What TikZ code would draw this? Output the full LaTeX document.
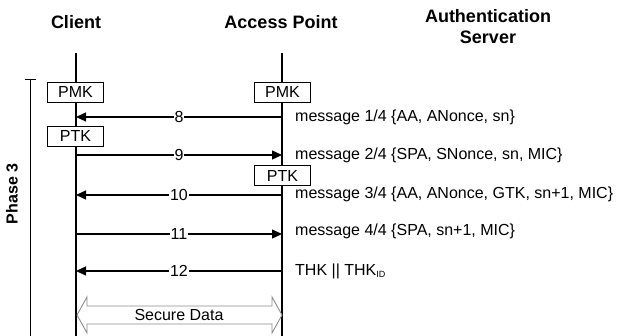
\documentclass[tikz,border=0pt]{standalone}
\usepackage{fontspec}
\setmainfont{Liberation Sans}
\usetikzlibrary{arrows.meta}
\begin{document}
\begin{tikzpicture}[x=1pt,y=-1pt,
  txt/.style={font=\fontsize{16}{19}\selectfont, inner sep=0pt},
  hdr/.style={font=\fontsize{18}{21}\selectfont\bfseries, inner sep=0pt, align=center},
  life/.style={line width=2pt},
  keybox/.style={draw, line width=0.9pt, minimum width=56pt, minimum height=20pt, inner sep=0pt, font=\fontsize{16}{19}\selectfont, fill=white},
  msg/.style={line width=1.3pt},
  tip/.style={-{Triangle[length=10pt,width=9pt]}},
  num/.style={font=\fontsize{16}{19}\selectfont, fill=white, inner sep=1pt},
  mtxt/.style={txt, anchor=west}]
\useasboundingbox (0,0) rectangle (621,336);
\clip (0,0) rectangle (621,336);
% headers
\node[hdr] (hc) at (76,22) {Client};
\node[hdr] (ha) at (281,22) {Access Point};
\node[hdr] (hs) at (488,27) {Authentication\\Server};
% lifelines
\coordinate (ct) at (76,53); \coordinate (cb) at (76,340);
\coordinate (at) at (282,53); \coordinate (ab) at (282,340);
\draw[life] (ct) -- (cb);
\draw[life] (at) -- (ab);
% phase bracket
\coordinate (pt) at (30,79); \coordinate (pb) at (30,340);
\draw[line width=0.9pt] (pt) -- (pb);
\coordinate (ptl) at (24.5,79); \coordinate (ptr) at (36,79);
\draw[line width=0.9pt] (ptl) -- (ptr);
\node[txt, font=\fontsize{16}{19}\selectfont\bfseries, rotate=90] (ph) at (12,194) {Phase 3};
% key boxes
\node[keybox] (cpmk) at (75.5,92) {PMK};
\node[keybox] (apmk) at (282.5,92) {PMK};
\node[keybox] (cptk) at (75.5,136) {PTK};
\node[keybox] (aptk) at (282.5,175.5) {PTK};
% message coordinates
\foreach \n/\y in {8/117,9/155,10/195,11/234,12/271}{
  \coordinate (c\n) at (76,\y);
  \coordinate (a\n) at (282,\y);
}
\draw[msg,tip] (a8) -- node[num] (n8) {8} (c8);
\draw[msg,tip] (c9) -- node[num] (n9) {9} (a9);
\draw[msg,tip] (a10) -- node[num] (n10) {10} (c10);
\draw[msg,tip] (c11) -- node[num] (n11) {11} (a11);
\draw[msg,tip] (a12) -- node[num] (n12) {12} (c12);
% message texts
\node[mtxt] (m1) at (295,117) {message 1/4 \{AA, ANonce, sn\}};
\node[mtxt] (m2) at (295,155) {message 2/4 \{SPA, SNonce, sn, MIC\}};
\node[mtxt] (m3) at (295,194) {message 3/4 \{AA, ANonce, GTK, sn+1, MIC\}};
\node[mtxt] (m4) at (295,231) {message 4/4 \{SPA, sn+1, MIC\}};
\node[mtxt] (m5) at (295,271) {THK || THK\textsubscript{\fontsize{9}{10}\selectfont ID}};
% secure data double arrow
\draw[draw=gray!90, line width=0.9pt, fill=white]
  (77,315) -- (87,297) -- (87,306) -- (272,306) -- (272,297) -- (282,315)
  -- (272,333) -- (272,324) -- (87,324) -- (87,333) -- cycle;
\node[txt] (sd) at (179,315) {Secure Data};
\end{tikzpicture}
\end{document}
